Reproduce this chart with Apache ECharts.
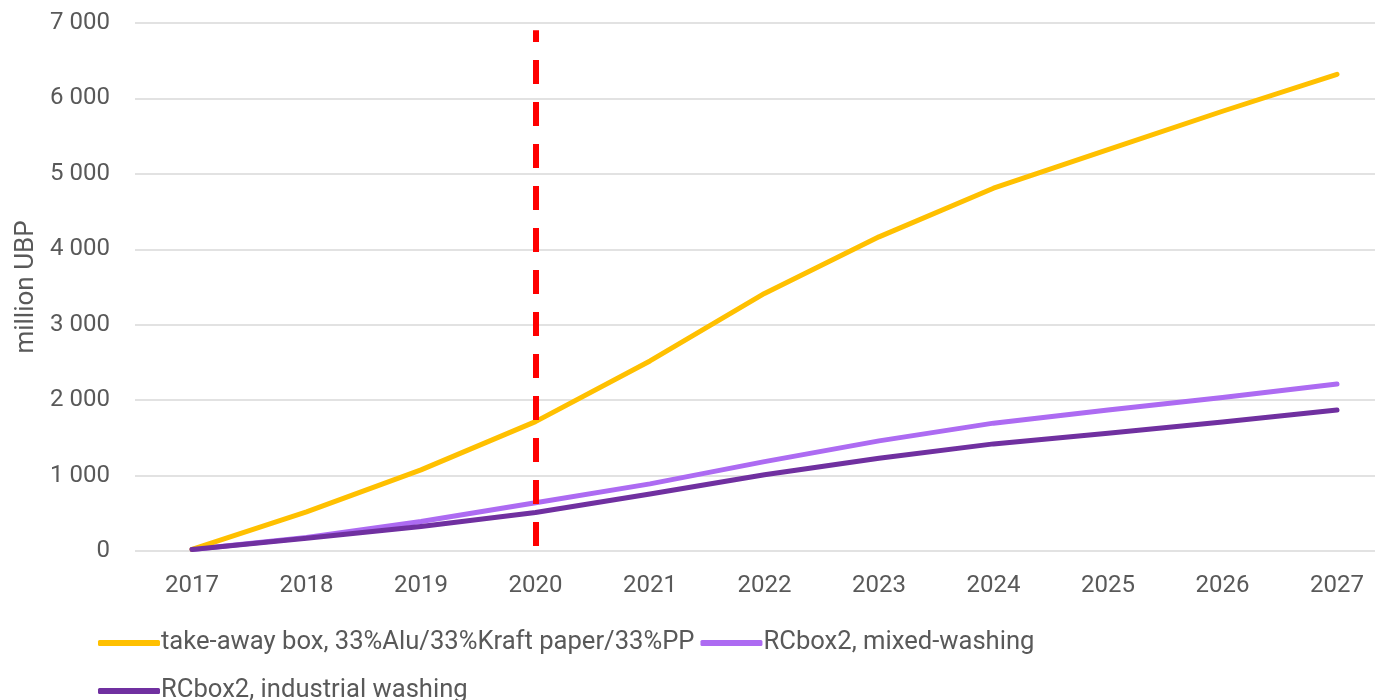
<!DOCTYPE html>
<html>
<head>
<meta charset="utf-8">
<script src="https://cdn.jsdelivr.net/npm/echarts@6/dist/echarts.min.js"></script>
<style>
  html, body { margin: 0; padding: 0; background: #ffffff; }
  #chart { width: 1375px; height: 700px; }
</style>
</head>
<body>
<div id="chart"></div>
<script>
const years = ['2017','2018','2019','2020','2021','2022','2023','2024','2025','2026','2027'];
const takeAwayBox = [20, 520, 1075, 1715, 2520, 3415, 4165, 4810, 5320, 5830, 6320];
const mixedWashing = [20, 180, 390, 640, 890, 1185, 1460, 1695, 1870, 2035, 2215];
const industrialWashing = [20, 170, 325, 510, 755, 1010, 1230, 1420, 1560, 1710, 1870];
const seriesNames = ['take-away box, 33%Alu/33%Kraft paper/33%PP', 'RCbox2, mixed-washing', 'RCbox2, industrial washing'];
const yTicks = { min: 0, max: 7000, interval: 1000 };
const markerYear = '2020';
const markerBottom = 65;
const markerTop = 6905;

const chart = echarts.init(document.getElementById('chart'));
const font = 'Roboto, "Noto Sans", sans-serif';
const textColor = '#595959';

function fmt(v) {
  return String(v).replace(/\B(?=(\d{3})+(?!\d))/g, ' ');
}

function lineSeries(name, data, color, extra) {
  return Object.assign({
    name: name,
    type: 'line',
    data: data,
    xAxisIndex: 1,
    yAxisIndex: 1,
    symbol: 'none',
    lineStyle: { color: color, width: 5, cap: 'round', join: 'round' },
    itemStyle: { color: color },
    animation: false
  }, extra || {});
}

chart.setOption({
  animation: false,
  grid: [
    { left: 135, right: 0, top: 23, height: 528, containLabel: false },
    { left: 192, width: 1145, top: 23, height: 528, containLabel: false }
  ],
  xAxis: [
    {
      gridIndex: 0,
      type: 'category',
      data: years,
      show: false
    },
    {
      gridIndex: 1,
      type: 'category',
      data: years,
      boundaryGap: false,
      axisLine: { show: false },
      axisTick: { show: false },
      axisLabel: { color: textColor, fontSize: 24, fontFamily: font, margin: 23 },
      splitLine: { show: false }
    }
  ],
  yAxis: [
    {
      gridIndex: 0,
      type: 'value',
      min: yTicks.min,
      max: yTicks.max,
      interval: yTicks.interval,
      name: 'million UBP',
      nameLocation: 'middle',
      nameGap: 88,
      nameTextStyle: { color: textColor, fontSize: 26, fontFamily: font },
      axisLine: { show: false },
      axisTick: { show: false },
      axisLabel: { color: textColor, fontSize: 24, fontFamily: font, margin: 25, formatter: fmt },
      splitLine: { lineStyle: { color: '#d9d9d9', width: 1.5 } }
    },
    {
      gridIndex: 1,
      type: 'value',
      min: yTicks.min,
      max: yTicks.max,
      interval: yTicks.interval,
      show: false,
      splitLine: { show: false }
    }
  ],
  legend: {
    left: 93,
    top: 617,
    width: 1020,
    orient: 'horizontal',
    itemGap: 6,
    itemWidth: 62,
    itemHeight: 6,
    icon: 'roundRect',
    textStyle: { color: textColor, fontSize: 25.6, fontFamily: font, lineHeight: 42, padding: [0, 0, 0, -4] },
    data: seriesNames
  },
  series: [
    lineSeries(seriesNames[0], takeAwayBox, '#FFC000', {
      z: 3,
      markLine: {
        silent: true,
        symbol: ['none', 'none'],
        lineStyle: { color: '#FF0000', width: 6, type: [24, 18], cap: 'butt' },
        label: { show: false },
        data: [[{ coord: [markerYear, markerBottom] }, { coord: [markerYear, markerTop] }]]
      }
    }),
    lineSeries(seriesNames[1], mixedWashing, '#AD6BF2', { z: 2 }),
    lineSeries(seriesNames[2], industrialWashing, '#7030A0', { z: 4 })
  ]
});
</script>
</body>
</html>
